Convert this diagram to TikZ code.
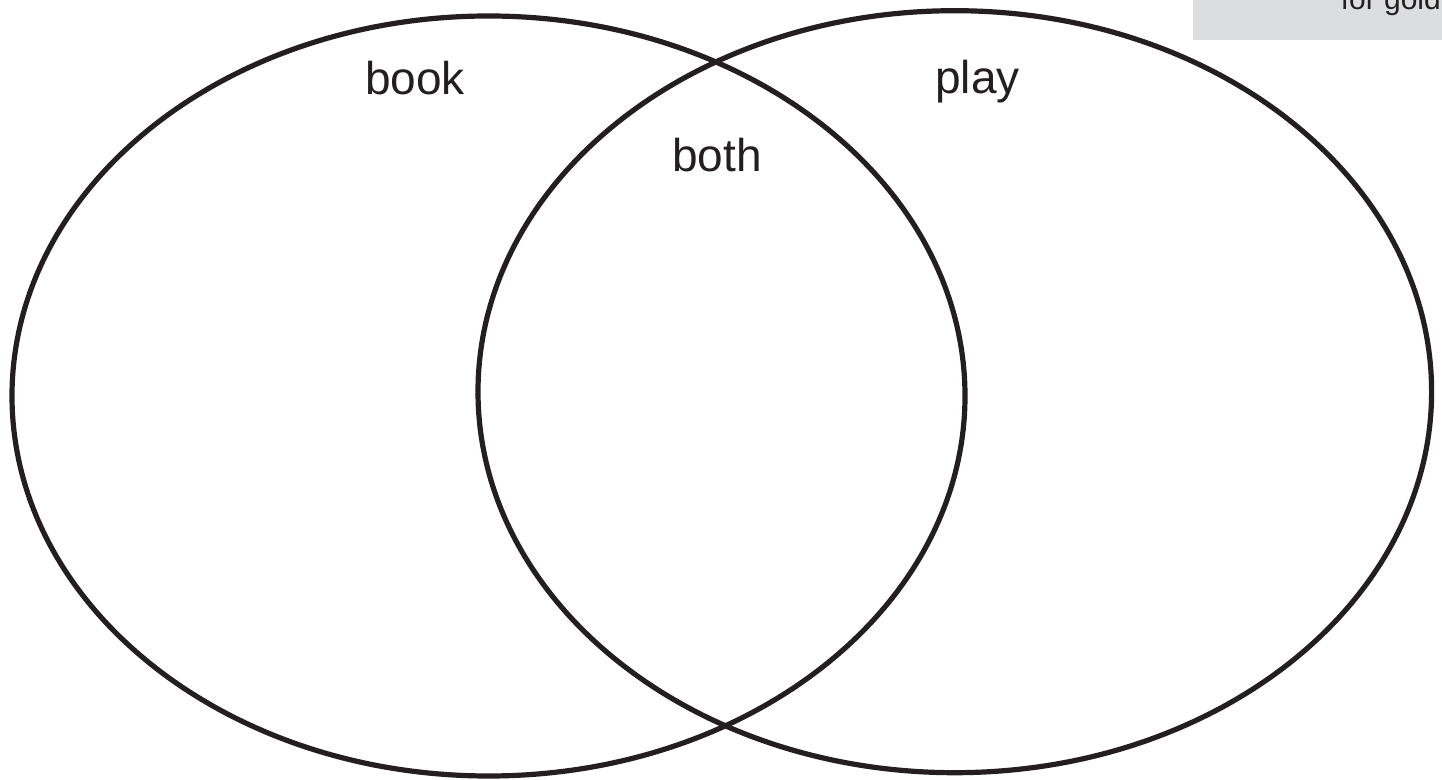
\documentclass[tikz,border=0pt]{standalone}
\usepackage{fontspec}
\setmainfont{Liberation Sans}
\definecolor{ink}{HTML}{231F20}
\definecolor{boxgray}{HTML}{DCDDDF}
\begin{document}
\begin{tikzpicture}[x=1pt,y=1pt,
  setline/.style={draw=ink,line width=5.2pt},
  setlabel/.style={inner sep=0pt,anchor=base west,text=ink,font=\fontsize{46}{50}\selectfont}]
\useasboundingbox (0,0) rectangle (1442,779);
\fill[white] (0,0) rectangle (1442,779);
\begin{scope}
\clip (0,0) rectangle (1442,779);
\fill[boxgray] (1193,739) rectangle (1442,779);
\node[inner sep=0pt,anchor=base east,text=ink,font=\fontsize{30}{34}\selectfont] (note) at (1441,769) {for gold};
\end{scope}
\draw[setline] (488.5,383) ellipse [x radius=476.5, y radius=380];
\draw[setline] (954.8,387.3) ellipse [x radius=476.8, y radius=381];
\node[setlabel] (book) at (365,684) {book};
\node[setlabel] (play) at (935,685) {play};
\node[setlabel] (both) at (672,607) {both};
\end{tikzpicture}
\end{document}
